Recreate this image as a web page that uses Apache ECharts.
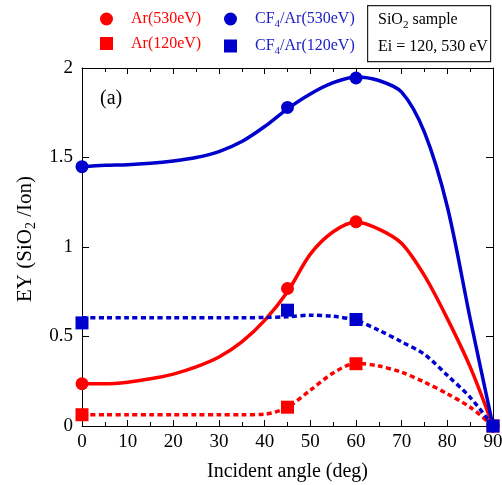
<!DOCTYPE html>
<html><head><meta charset="utf-8">
<script src="https://cdn.jsdelivr.net/npm/echarts@6/dist/echarts.min.js"></script>
<style>html,body{margin:0;padding:0;background:#fff}#c{width:502px;height:485px}</style>
</head><body><div id="c"></div>
<script>
// ---- data ----
const markerAngles = [0, 45, 60, 90];
const ar530 = [0.236, 0.768, 1.141, 0];
const cf530 = [1.449, 1.78, 1.944, 0];
const ar120 = [0.063, 0.105, 0.348, 0];
const cf120 = [0.576, 0.647, 0.595, 0];

const curveAngles = [0, 5, 10, 15, 20, 25, 30, 35, 40, 45, 50, 55, 60, 65, 70, 75, 80, 85, 90];
const ar530Curve = [0.236, 0.236, 0.245, 0.264, 0.29, 0.33, 0.385, 0.47, 0.59, 0.75, 0.96, 1.085, 1.14, 1.10, 1.02, 0.84, 0.60, 0.33, 0];
const cf530Curve = [1.449, 1.457, 1.46, 1.468, 1.481, 1.50, 1.533, 1.589, 1.673, 1.772, 1.855, 1.918, 1.95, 1.93, 1.865, 1.64, 1.225, 0.60, 0];
const ar120Curve = [0.063, 0.063, 0.063, 0.063, 0.063, 0.063, 0.063, 0.063, 0.066, 0.105, 0.20, 0.296, 0.35, 0.335, 0.30, 0.245, 0.18, 0.105, 0];
const cf120Curve = [0.605, 0.605, 0.605, 0.605, 0.605, 0.605, 0.605, 0.605, 0.606, 0.61, 0.619, 0.613, 0.59, 0.535, 0.47, 0.40, 0.283, 0.16, 0];

const xTickLabels = [0, 10, 20, 30, 40, 50, 60, 70, 80, 90];
const yTickLabels = [0, 0.5, 1, 1.5, 2];

// ---- styling ----
const FONT = 'Liberation Serif';
const RED = '#ff0000';
const BLUE = '#0000cc';
const BLUE_TXT = '#2020c8';

const pairs = (xs, ys) => xs.map((x, i) => [x, ys[i]]);

function curve(name, ys, color, dashed) {
  return {
    type: 'line', name: name, data: pairs(curveAngles, ys),
    smooth: 0.3, symbol: 'none', silent: true,
    lineStyle: { color: color, width: 3.5, type: dashed ? [5, 3.4] : 'solid' },
    itemStyle: { color: color }, z: 2
  };
}
function markers(name, ys, color, sym, size) {
  return {
    type: 'scatter', name: name, data: pairs(markerAngles, ys),
    symbol: sym, symbolSize: size, clip: false,
    itemStyle: { color: color, opacity: 1 }, z: 3
  };
}

const chart = echarts.init(document.getElementById('c'), null, { renderer: 'canvas' });

const axisLine = { show: true, onZero: false, lineStyle: { color: '#000', width: 1 } };

const option = {
  animation: false,
  backgroundColor: '#fff',
  grid: { left: 82, right: 9, top: 68, bottom: 59, containLabel: false, outerBoundsMode: 'none' },
  legend: [
    {
      orient: 'vertical', left: 95, top: 6, itemGap: 8.5, itemWidth: 13, itemHeight: 13,
      selectedMode: false,
      data: [{ name: 'Ar(530eV)', icon: 'circle' }, { name: 'Ar(120eV)', icon: 'rect' }],
      formatter: n => '{t|' + n + '}',
      textStyle: { rich: { t: { color: RED, fontFamily: FONT, fontSize: 16, padding: [0, 0, 0, 13], height: 14 } } }
    },
    {
      orient: 'vertical', left: 219, top: 6, itemGap: 8.5, itemWidth: 13, itemHeight: 13,
      selectedMode: false,
      data: [{ name: 'CF4/Ar(530eV)', icon: 'circle' }, { name: 'CF4/Ar(120eV)', icon: 'rect' }],
      formatter: n => '{t|CF}{s|4}{u|' + n.slice(3) + '}',
      textStyle: { rich: {
        t: { color: BLUE_TXT, fontFamily: FONT, fontSize: 16, padding: [0, 0, 0, 13], height: 14 },
        s: { color: BLUE_TXT, fontFamily: FONT, fontSize: 11, padding: [10, 0, 0, 0] },
        u: { color: BLUE_TXT, fontFamily: FONT, fontSize: 16, height: 14 }
      } }
    }
  ],
  xAxis: [
    {
      type: 'value', position: 'bottom', min: 0, max: 90, interval: 10,
      axisLine: axisLine,
      axisTick: { show: true, inside: true, length: 6, lineStyle: { color: '#000' } },
      minorTick: { show: true, splitNumber: 2, length: 4, lineStyle: { color: '#000' } },
      axisLabel: { margin: 7, color: '#000', fontFamily: FONT, fontSize: 19,
        formatter: v => xTickLabels.includes(v) ? String(v) : '' },
      splitLine: { show: false }, minorSplitLine: { show: false },
      name: 'Incident angle (deg)', nameLocation: 'middle', nameGap: 36,
      nameTextStyle: { color: '#000', fontFamily: FONT, fontSize: 20 }
    },
    {
      type: 'value', position: 'top', min: 0, max: 90, interval: 10,
      axisLine: axisLine,
      axisTick: { show: true, inside: true, length: 6, lineStyle: { color: '#000' } },
      minorTick: { show: true, splitNumber: 2, length: 4, lineStyle: { color: '#000' } },
      axisLabel: { show: false }, splitLine: { show: false }
    }
  ],
  yAxis: [
    {
      type: 'value', position: 'left', min: 0, max: 2, interval: 0.5,
      axisLine: axisLine,
      axisTick: { show: true, inside: true, length: 7, lineStyle: { color: '#000' } },
      axisLabel: { margin: 9, color: '#000', fontFamily: FONT, fontSize: 19,
        formatter: v => yTickLabels.includes(v) ? String(v) : '' },
      splitLine: { show: false },
      name: '{n|EY (SiO}{s|2}{n| /Ion)}', nameLocation: 'middle', nameGap: 44, nameRotate: 90,
      nameTextStyle: { padding: [0, 0, 0, 16], rich: {
        n: { color: '#000', fontFamily: FONT, fontSize: 21 },
        s: { color: '#000', fontFamily: FONT, fontSize: 14, padding: [12, 0, 0, 0] }
      } }
    },
    {
      type: 'value', position: 'right', min: 0, max: 2, interval: 0.5,
      axisLine: axisLine,
      axisTick: { show: true, inside: true, length: 7, lineStyle: { color: '#000' } },
      axisLabel: { show: false }, splitLine: { show: false }
    }
  ],
  graphic: [
    { type: 'text', left: 100, top: 89, style: { text: '(a)', fill: '#000', font: '20px "Liberation Serif"' } },
    { type: 'rect', left: 367, top: 5, shape: { width: 123, height: 56 },
      style: { fill: '#fff', stroke: '#222', lineWidth: 1.2 } },
    { type: 'text', left: 378, top: 12, style: {
        text: '{n|SiO}{s|2}{n| sample}',
        rich: { n: { fill: '#000', fontFamily: FONT, fontSize: 16 },
                s: { fill: '#000', fontFamily: FONT, fontSize: 11, padding: [10, 0, 0, 0] } } } },
    { type: 'text', left: 378, top: 39, style: { text: 'Ei = 120, 530 eV', fill: '#000', font: '16px "Liberation Serif"' } }
  ],
  series: [
    curve('c_ar530', ar530Curve, RED, false),
    curve('c_cf530', cf530Curve, BLUE, false),
    curve('c_ar120', ar120Curve, RED, true),
    curve('c_cf120', cf120Curve, BLUE, true),
    markers('Ar(530eV)', ar530, RED, 'circle', 13),
    markers('Ar(120eV)', ar120, RED, 'rect', 13),
    markers('CF4/Ar(530eV)', cf530, BLUE, 'circle', 13),
    markers('CF4/Ar(120eV)', cf120, BLUE, 'rect', 13)
  ]
};
chart.setOption(option);
</script>
</body></html>
